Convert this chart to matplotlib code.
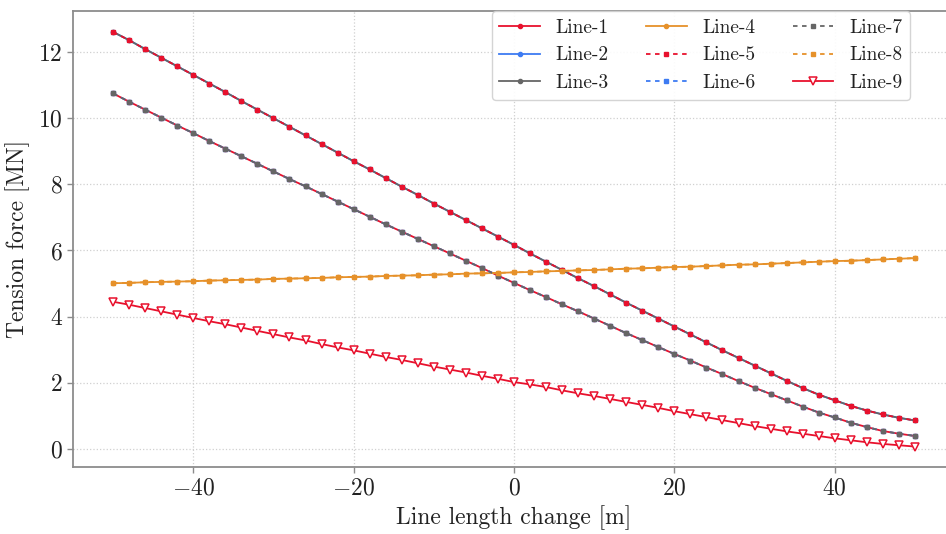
import numpy as np
import matplotlib
matplotlib.use("Agg")
import matplotlib.pyplot as plt

# ---- data ----
length_change = np.arange(-50, 51, 2)

tension_upper = [12.61, 12.36, 12.09, 11.83, 11.57, 11.31, 11.05, 10.79, 10.52, 10.26,
                 10.00, 9.74, 9.48, 9.22, 8.96, 8.70, 8.45, 8.19, 7.93, 7.68,
                 7.42, 7.17, 6.92, 6.67, 6.42, 6.17, 5.91, 5.66, 5.41, 5.16,
                 4.92, 4.67, 4.42, 4.18, 3.94, 3.70, 3.46, 3.22, 2.98, 2.75,
                 2.52, 2.29, 2.06, 1.84, 1.64, 1.47, 1.30, 1.16, 1.04, 0.94, 0.86]

tension_lower = [10.75, 10.50, 10.26, 10.02, 9.78, 9.55, 9.31, 9.08, 8.85, 8.62,
                 8.39, 8.16, 7.94, 7.71, 7.48, 7.25, 7.02, 6.79, 6.57, 6.35,
                 6.13, 5.91, 5.69, 5.47, 5.24, 5.02, 4.80, 4.59, 4.37, 4.16,
                 3.94, 3.72, 3.50, 3.29, 3.08, 2.87, 2.67, 2.46, 2.26, 2.05,
                 1.85, 1.66, 1.47, 1.28, 1.10, 0.95, 0.79, 0.66, 0.54, 0.46, 0.39]

tension_orange = [5.01, 5.02, 5.04, 5.05, 5.06, 5.07, 5.09, 5.10, 5.11, 5.12,
                  5.14, 5.15, 5.16, 5.17, 5.19, 5.20, 5.21, 5.23, 5.24, 5.25,
                  5.27, 5.28, 5.30, 5.31, 5.32, 5.34, 5.35, 5.37, 5.38, 5.40,
                  5.41, 5.43, 5.45, 5.46, 5.48, 5.50, 5.51, 5.53, 5.55, 5.57,
                  5.58, 5.60, 5.62, 5.64, 5.66, 5.68, 5.69, 5.71, 5.73, 5.75, 5.77]

tension_line9 = [4.45, 4.36, 4.26, 4.16, 4.06, 3.96, 3.86, 3.77, 3.67, 3.57,
                 3.47, 3.37, 3.28, 3.17, 3.07, 2.98, 2.88, 2.78, 2.69, 2.59,
                 2.49, 2.40, 2.31, 2.21, 2.12, 2.02, 1.95, 1.87, 1.77, 1.68,
                 1.60, 1.51, 1.42, 1.33, 1.24, 1.14, 1.05, 0.96, 0.87, 0.78,
                 0.69, 0.61, 0.53, 0.46, 0.39, 0.32, 0.26, 0.20, 0.15, 0.11, 0.07]

labels = ["Line-1", "Line-2", "Line-3", "Line-4", "Line-5", "Line-6", "Line-7", "Line-8", "Line-9"]

RED = "#E8112D"
BLUE = "#3D7BF2"
GRAY = "#666666"
ORANGE = "#E6912A"

plt.rcParams["font.family"] = "serif"
plt.rcParams["font.serif"] = ["cmr10", "DejaVu Serif"]
plt.rcParams["mathtext.fontset"] = "cm"
plt.rcParams["axes.formatter.use_mathtext"] = True
plt.rcParams["axes.unicode_minus"] = True

fig = plt.figure(figsize=(9.46, 5.34), dpi=100)
ax = fig.add_axes([73/946, 1 - 467.4/534, 882/946, (467.4 - 11.1)/534])

lw = 1.3
ms_o = 3.0
ms_s = 3.0
ax.plot(length_change, tension_lower, color=RED, lw=lw, marker="o", ms=ms_o, label=labels[0])
ax.plot(length_change, tension_upper, color=BLUE, lw=lw, marker="o", ms=ms_o, label=labels[1])
ax.plot(length_change, tension_upper, color=GRAY, lw=lw, marker="o", ms=ms_o, label=labels[2])
ax.plot(length_change, tension_orange, color=ORANGE, lw=lw, marker="o", ms=ms_o, label=labels[3])
ax.plot(length_change, tension_upper, color=RED, lw=lw, ls=(0, (2.5, 2.5)), marker="s", ms=ms_s, label=labels[4])
ax.plot(length_change, tension_lower, color=BLUE, lw=lw, ls=(0, (2.5, 2.5)), marker="s", ms=ms_s, label=labels[5])
ax.plot(length_change, tension_lower, color=GRAY, lw=lw, ls=(0, (2.5, 2.5)), marker="s", ms=ms_s, label=labels[6])
ax.plot(length_change, tension_orange, color=ORANGE, lw=lw, ls=(0, (2.5, 2.5)), marker="s", ms=ms_s, label=labels[7])
ax.plot(length_change, tension_line9, color=RED, lw=lw, marker="v", ms=6, mfc="white", mec=RED, mew=1.1, label=labels[8])

ax.set_xlim(-55, 55)
ax.set_ylim(-0.56, 13.24)
ax.set_xticks([-40, -20, 0, 20, 40])
ax.set_yticks([0, 2, 4, 6, 8, 10, 12])

ax.grid(True, color="#d0d0d0", ls=":", lw=0.9)
ax.set_axisbelow(True)
for s in ax.spines.values():
    s.set_color("#8c8c8c")
    s.set_linewidth(1.3)
ax.tick_params(colors="#8c8c8c", labelcolor="#222222", labelsize=17, length=4, width=1)

ax.set_xlabel("Line length change [m]", fontsize=17, color="#222222", labelpad=4)
ax.set_ylabel("Tension force [MN]", fontsize=17, color="#222222", labelpad=6)

leg = fig.legend(loc="upper right", bbox_to_anchor=(910/946, 1 - 11/534),
                 ncol=3, fontsize=14, frameon=True, fancybox=True,
                 framealpha=0.9, edgecolor="#d0d0d0", borderaxespad=0,
                 handlelength=2.1, handletextpad=0.8, columnspacing=1.9,
                 labelspacing=0.5, borderpad=0.4)
for t in leg.get_texts():
    t.set_color("#222222")

fig.savefig("out.png", dpi=100)
